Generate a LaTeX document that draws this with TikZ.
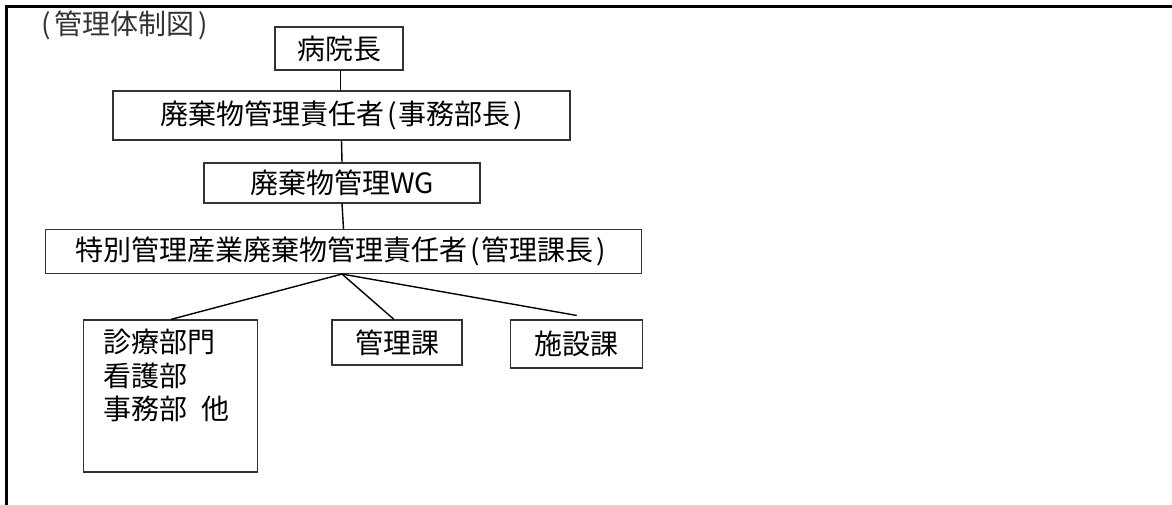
\documentclass[tikz,border=0pt]{standalone}
\usepackage{fontspec}
\newfontfamily\jp{Noto Sans CJK JP}
\newcommand{\lp}{\hspace{3pt}(\hspace{2pt}}
\newcommand{\rp}{\hspace{2pt})\hspace{3pt}}
\begin{document}
\begin{tikzpicture}[x=1pt,y=-1pt,
  box/.style={draw=black!80,line width=1.1pt,inner sep=0pt,font=\jp\fontsize{28}{33.5}\selectfont},
  conn/.style={line width=1.4pt,black}]
\useasboundingbox (0,0) rectangle (1172,505);
% frame
\draw[line width=3pt] (1172,6.5) -- (6.5,6.5) -- (6.5,505);
% caption
\node[anchor=west,inner sep=0pt,font=\jp\fontsize{28}{30}\selectfont,text=black!80] (cap) at (41,25) {(\hspace{4pt}管理体制図\hspace{4pt})};
% boxes
\node[box,minimum width=128pt,minimum height=43pt] (boss) at (339,48.5) {病院長};
\node[box,minimum width=457pt,minimum height=49pt] (mgr) at (341.5,115.5) {廃棄物管理責任者\lp 事務部長\rp};
\node[box,minimum width=276pt,minimum height=40pt] (wg) at (342,183) {廃棄物管理WG};
\node[box,minimum width=596pt,minimum height=44pt] (sp) at (343.5,251.5) {\hspace{-6pt}特別管理産業廃棄物管理責任者\lp 管理課長\rp};
\node[box,minimum width=174pt,minimum height=152pt] (c1) at (170.8,396) {};
\node[anchor=north west,inner sep=0pt,align=left,font=\jp\fontsize{28}{33.5}\selectfont] (c1t) at (103,329) {診療部門\\看護部\\事務部\hspace{14pt}他};
\node[box,minimum width=130pt,minimum height=45pt] (c2) at (397,342.5) {管理課};
\node[box,minimum width=132pt,minimum height=48pt] (c3) at (576.75,344) {施設課};
% connectors
\coordinate (b1) at ([xshift=1.5pt]boss.south);
\draw[conn] (b1) -- (b1 |- mgr.north);
\draw[conn] (mgr.south) -- (wg.north);
\draw[conn] (wg.south) -- (sp.north);
\coordinate (fork) at ([xshift=-1.5pt]sp.south);
\coordinate (e2) at ([xshift=-3pt]c2.north);
\coordinate (e3) at ([yshift=4pt]c3.north);
\draw[conn] (fork) -- (c1.north);
\draw[conn] (fork) -- (e2);
\draw[conn] (fork) -- (e3);
\end{tikzpicture}
\end{document}
